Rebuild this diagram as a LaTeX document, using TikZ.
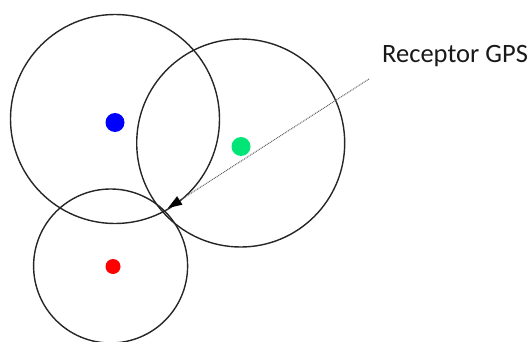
\documentclass[tikz,border=0pt]{standalone}
\usepackage{fontspec}
\setmainfont{Carlito}
\usetikzlibrary{arrows.meta}
\begin{document}
\begin{tikzpicture}[x=1pt,y=-1pt,
  ring/.style={circle,draw=black!85,line width=1.4pt,inner sep=0pt},
  dot/.style={circle,inner sep=0pt,draw=none},
  pointer/.style={draw=black!65,line width=1pt,dash pattern=on 0.9pt off 0.9pt,
    -{Triangle[length=14pt,width=10pt,black,line width=0pt]}}]
\useasboundingbox (0,0) rectangle (532,342);
\node[ring,minimum size=209pt] (c1) at (115,119) {};
\node[ring,minimum size=208pt] (c2) at (240.7,143) {};
\node[ring,minimum size=154pt] (c3) at (110.6,266) {};
\node[dot,fill=blue,minimum size=19pt] (d1) at (115,122.5) {};
\node[dot,fill={rgb,255:red,0;green,230;blue,118},minimum size=19pt] (d2) at (241,146.5) {};
\node[dot,fill=red,minimum size=15pt] (d3) at (113,266.5) {};
\node[anchor=base west,inner sep=0pt,font=\fontsize{26.5}{30}\selectfont,text=black!90] (lbl) at (382,63) {Receptor GPS};
\coordinate (from) at (369,79);
\coordinate (tip) at (168,208);
\draw[pointer] (from) -- (tip);
\end{tikzpicture}
\end{document}
